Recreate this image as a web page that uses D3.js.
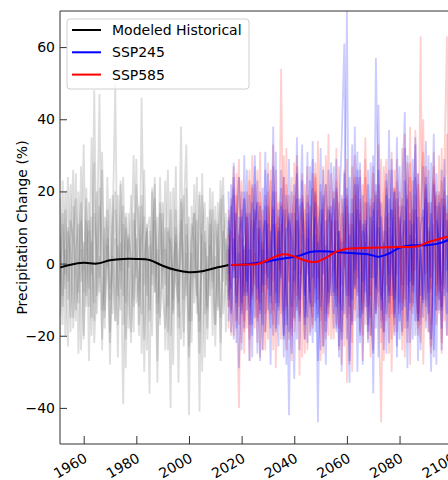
<!DOCTYPE html>
<html>
<head>
<meta charset="utf-8">
<script src="https://cdn.jsdelivr.net/npm/d3@7"></script>
<style>
  body { margin: 0; background: #fff; }
  text { font-family: "DejaVu Sans", sans-serif; }
</style>
</head>
<body>
<div id="chart"></div>
<script>
// ensemble members, one value per year (precipitation change, %)
const histStart = 1951;
const futureStart = 2015;

const histRun1 = [8,-12,15,-5,22,-18,3,11,-24,6,-9,17,-3,28,-14,2,-21,13,9,-7,19,-16,5,-2,24,-11,7,-19,12,-4,16,-25,1,10,-13,21,-8,4,-17,14,-6,26,-20,0,8,-15,18,-10,3,-23,11,6,-14,20,-3,9,-18,15,-7,2,-12,23,-5,7,-9];
const histRun2 = [-6,14,-20,9,3,-15,25,-8,12,-2,18,-27,6,-11,20,-4,31,-13,7,-19,2,15,-9,23,-17,10,-5,-22,14,4,-12,19,-30,8,13,-6,22,-14,-1,17,-24,9,5,-10,27,-18,12,-3,21,-26,6,14,-8,-16,19,3,-21,11,-5,16,-13,8,24,-19,4];
const histRun3 = [18,-9,4,-23,12,7,-16,20,-5,33,-12,9,-20,14,3,-8,26,-15,5,-28,11,20,-6,-13,16,-21,8,2,-10,29,-17,6,13,-24,9,-3,18,-11,24,-7,4,-19,15,-14,10,-33,7,19,-9,13,-16,22,-2,-25,8,17,-12,5,-20,12,3,-15,19,-6,10];
const histRun4 = [-14,23,-7,10,-19,16,-2,-11,27,-21,5,12,-15,48,-9,21,-13,-4,15,-22,9,50,-17,6,-39,13,-1,19,-12,7,-20,46,-6,11,-16,3,24,-27,14,-8,-18,10,-40,21,-5,-11,17,-23,8,-42,16,-4,12,-41,25,-14,2,-9,20,-17,11,-22,6,14,-8];
const histRun5 = [3,-17,20,-10,6,26,-13,-4,17,-20,12,-7,35,-16,4,47,-24,10,-1,18,-14,7,-26,22,-9,14,-18,5,30,-11,-4,16,-21,9,-36,20,-8,13,-15,1,23,-12,7,-28,15,-6,38,-19,11,-3,-22,14,-9,19,-30,6,-13,21,-7,-17,17,-27,9,3,-12];
const histRun6 = [-20,11,-3,24,-15,9,18,-25,4,-8,21,-12,13,-22,-5,16,7,-18,24,-10,2,-16,19,-7,11,-29,14,-3,-19,22,9,-14,26,-9,5,-20,12,-33,17,-2,10,-24,20,-13,6,-7,-21,14,33,-16,3,-11,24,-19,8,-26,13,-1,15,-23,7,18,-14,-4,13];

const ssp245Run1 = [5,-14,19,-22,8,13,-9,26,-17,3,15,-25,10,-6,31,-13,2,20,-19,9,-4,24,-28,12,7,-15,35,-10,4,-21,17,-8,29,-16,6,-24,14,22,-11,-3,27,-19,9,-30,18,2,-12,33,-7,15,-22,11,6,-17,28,-4,19,-26,13,1,-14,37,-9,20,-23,8,16,-12,30,-5,11,-20,25,4,-15,34,-8,17,-24,12,6,-13,29,-2,21,-10];
const ssp245Run2 = [-10,22,-4,14,-29,9,18,-13,4,-20,27,-7,12,-24,16,3,-11,38,-18,6,21,-26,10,-42,14,-5,25,-16,8,-9,31,-20,5,17,-44,22,-3,12,-14,9,18,-12,9,-21,4,70,-27,14,-6,26,-15,19,-8,22,-11,-25,57,13,-18,2,23,-9,15,-20,7,27,-13,-2,18,-22,10,33,-16,6,-10,24,-19,14,2,-28,20,-6,16,-14,28,9];
const ssp245Run3 = [12,-7,28,-18,3,-11,20,-5,14,-26,9,17,-14,4,-19,25,-9,11,-2,-23,16,6,-17,29,-12,2,-21,18,10,-7,-15,23,-4,13,-27,7,19,-16,26,-9,3,-18,14,33,61,-21,8,-10,22,-30,12,-5,17,-22,6,30,-14,10,-3,-19,25,-11,4,20,-26,13,-6,32,-16,8,-21,15,3,-9,27,-18,10,-4,36,-13,17,-24,8,19,-7,14];
const ssp245Run4 = [-3,16,-21,10,24,-14,5,-9,19,-17,30,-2,-13,21,-6,11,-28,15,4,-12,26,-20,8,14,-9,-32,18,2,23,-15,7,-11,34,-19,10,15,-23,5,-8,28,-14,12,-26,19,2,-9,24,-16,7,31,-20,9,-12,26,-4,15,-18,44,-10,6,-25,18,11,-14,35,-7,-19,23,1,-11,29,-16,13,-24,7,18,-5,-30,22,10,-13,26,-9,12,-17,23];
const ssp245Run5 = [20,-19,7,-4,13,-24,30,-8,2,17,-15,23,-27,8,12,-6,-18,27,-11,15,-3,-21,19,5,-25,22,-13,9,33,-17,14,-6,-22,20,3,-12,26,-19,11,16,-8,29,-23,6,-14,21,-2,-17,38,-9,24,-28,12,3,-20,17,-7,26,-13,-1,19,-22,29,-10,5,-16,21,42,-18,12,-6,24,-27,10,15,-12,30,-21,4,25,-10,18,-3,-20,33,-6];
const ssp245Run6 = [-16,10,24,-11,-1,20,-18,13,-27,22,5,-10,16,-17,26,-4,9,-20,31,-13,8,15,-7,-19,20,-2,12,-24,17,3,-22,27,-12,8,-15,32,-6,-28,15,11,-18,21,4,-13,25,-7,-33,18,-2,14,28,-14,6,-19,13,-36,22,-8,17,-24,9,-3,26,-15,18,-21,7,12,-29,20,-8,35,-16,4,-11,22,-14,28,-26,16,3,-18,24,-8,11,30];

const ssp585Run1 = [8,-13,21,-6,-40,15,-19,11,26,-8,3,-22,17,9,-14,28,-5,-17,20,-11,54,-9,-24,13,6,-16,30,-3,19,-21,10,-12,25,-7,16,-27,4,22,-15,12,-2,32,-18,7,-23,18,-9,27,-13,5,14,-20,24,-4,-26,11,20,-10,-44,16,29,-15,8,-19,23,3,-11,36,-22,14,-6,19,-14,63,-28,9,17,-8,31,-17,5,-12,26,63,-16,21];
const ssp585Run2 = [-12,18,-4,25,-17,7,-25,14,2,-10,22,-15,31,-8,12,-21,6,16,-29,10,-3,24,-12,19,-18,-6,27,-14,9,15,-24,5,21,-11,34,-16,8,-4,-20,25,13,-9,17,-28,3,29,-14,11,-7,22,-19,6,35,-12,18,-24,2,15,-9,27,-16,10,-30,21,-3,16,-20,9,28,-13,23,-5,-18,12,40,-10,17,-23,6,19,-14,32,-7,14,-21,27];
const ssp585Run3 = [15,-6,-20,12,29,-13,4,-18,23,-9,11,17,-26,6,-3,20,-14,33,-8,13,-21,9,15,-5,24,-19,12,-31,18,4,27,-9,-15,19,-4,11,-23,30,-12,7,20,-17,9,-6,26,-33,14,3,-16,24,8,-11,29,-21,16,-3,-14,22,10,-27,13,-8,31,-17,5,20,-24,16,-6,38,-12,11,25,-15,-4,21,-19,12,27,-9,16,-25,20,8,-13,24];
const ssp585Run4 = [-5,12,27,-16,8,-22,18,-3,-12,21,-18,10,4,-24,19,-7,26,-13,11,-2,17,-20,32,-10,-27,14,6,-15,25,-8,12,-19,3,28,-14,20,-25,9,16,-6,-21,23,-11,14,-1,19,-28,6,30,-15,10,22,-17,4,-9,27,-13,18,-22,9,-6,26,-14,21,-19,12,3,-26,17,28,-11,7,-20,15,31,-16,9,-7,23,-13,19,-22,11,36,-9,16];
const ssp585Run5 = [4,-20,14,-9,24,6,-16,20,-27,12,-6,26,-11,15,-19,2,23,-24,8,17,-14,30,-7,-21,11,19,-12,4,-26,22,-3,16,-17,25,9,-13,27,-21,1,14,-9,20,-24,18,8,-15,11,-30,19,-4,26,-13,7,17,-20,12,-6,33,-16,3,21,-25,15,-8,29,-11,18,-18,6,24,-14,37,-9,-22,13,-3,26,-17,11,-6,30,-12,18,-20,23,9];
const ssp585Run6 = [-18,9,-2,19,-12,23,-8,13,-21,30,5,-16,20,-11,-24,16,7,-5,26,-17,11,-13,22,1,-20,28,-9,16,-4,-25,19,8,-18,24,-10,3,15,-14,36,-21,12,-7,27,-19,5,16,-11,-22,24,-8,18,-27,11,6,-15,25,-4,-12,29,-19,9,14,-21,26,-7,-14,32,-10,19,-28,15,-2,22,-17,8,27,-12,-25,14,20,-8,23,-16,10,28,-11];

// smoothed ensemble means
const histMeanYears = [1951,1955,1960,1965,1970,1975,1980,1985,1990,1995,2000,2005,2010,2015];
const histMean      = [-1.1,-0.3,0.2,0.0,0.9,1.3,1.3,1.0,-0.6,-1.8,-2.4,-2.1,-1.2,-0.4];
const ssp245MeanYears = [2016,2020,2026,2030,2034,2038,2042,2046,2050,2054,2058,2064,2068,2072,2076,2080,2084,2090,2095,2100];
const ssp245Mean      = [-0.4,-0.3,0.2,0.6,1.2,1.6,2.2,3.2,3.4,3.3,3.1,2.8,2.6,1.9,2.8,4.4,5.0,5.1,5.6,7.0];
const ssp585MeanYears = [2016,2020,2026,2030,2033,2036,2039,2042,2046,2049,2052,2056,2060,2065,2070,2075,2080,2087,2091,2096,2100];
const ssp585Mean      = [-0.4,-0.3,-0.1,1.0,2.0,2.6,2.2,1.4,0.5,0.6,1.6,3.3,4.1,4.3,4.4,4.5,4.6,4.8,6.0,7.0,7.8];

const yTicks = [-40, -20, 0, 20, 40, 60];
const xTicks = [1960, 1980, 2000, 2020, 2040, 2060, 2080, 2100];
const legendLabels = ["Modeled Historical", "SSP245", "SSP585"];
const legendColors = ["black", "blue", "red"];

const width = 448, height = 480;
const plot = { left: 60, top: 11, right: 468, bottom: 444 };

const svg = d3.select("#chart").append("svg")
    .attr("width", width)
    .attr("height", height);

const x = d3.scaleLinear().domain([1951, 2106]).range([plot.left, plot.right]);
const y = d3.scaleLinear().domain([-50, 70]).range([plot.bottom, plot.top]);

svg.append("clipPath").attr("id", "clip")
  .append("rect")
    .attr("x", plot.left).attr("y", plot.top)
    .attr("width", plot.right - plot.left)
    .attr("height", plot.bottom - plot.top);

const g = svg.append("g").attr("clip-path", "url(#clip)");

function runLine(start) {
    return d3.line()
        .x((d, i) => x(start + i))
        .y(d => y(d));
}

function drawRuns(runs, start, color, opacity) {
    runs.forEach(run => {
        g.append("path")
            .datum(run)
            .attr("d", runLine(start))
            .attr("fill", "none")
            .attr("stroke", color)
            .attr("stroke-width", 1.8)
            .attr("stroke-linejoin", "bevel")
            .attr("stroke-opacity", opacity);
    });
}

drawRuns([histRun1, histRun2, histRun3, histRun4, histRun5, histRun6], histStart, "#808080", 0.27);
drawRuns([ssp585Run1, ssp585Run2, ssp585Run3, ssp585Run4, ssp585Run5, ssp585Run6], futureStart, "red", 0.19);
drawRuns([ssp245Run1, ssp245Run2, ssp245Run3, ssp245Run4, ssp245Run5, ssp245Run6], futureStart, "blue", 0.2);

// mean lines
const meanLine = d3.line()
    .x(d => x(d[0]))
    .y(d => y(d[1]))
    .curve(d3.curveCatmullRom);

[[histMeanYears, histMean, "black"],
 [ssp245MeanYears, ssp245Mean, "blue"],
 [ssp585MeanYears, ssp585Mean, "red"]].forEach(([yrs, vals, col]) => {
    g.append("path")
        .datum(d3.zip(yrs, vals))
        .attr("d", meanLine)
        .attr("fill", "none")
        .attr("stroke", col)
        .attr("stroke-width", 2);
});

// axes (ticks pointing inward)
const yAxis = d3.axisLeft(y).tickValues(yTicks).tickSizeInner(-7).tickSizeOuter(0).tickPadding(5);
svg.append("g")
    .attr("transform", "translate(" + plot.left + ",0)")
    .call(yAxis)
    .call(a => a.select(".domain").remove())
    .call(a => a.selectAll("line").attr("stroke", "#333"))
    .call(a => a.selectAll("text").attr("font-size", 14).attr("fill", "black")
        .attr("font-family", "DejaVu Sans, sans-serif"));

const xAxis = d3.axisBottom(x).tickValues(xTicks).tickFormat(d3.format("d"))
    .tickSizeInner(-8).tickSizeOuter(0);
svg.append("g")
    .attr("transform", "translate(0," + plot.bottom + ")")
    .call(xAxis)
    .call(a => a.select(".domain").remove())
    .call(a => a.selectAll("line").attr("stroke", "#333"))
    .call(a => a.selectAll("text")
        .attr("font-size", 14).attr("fill", "black")
        .attr("font-family", "DejaVu Sans, sans-serif")
        .attr("text-anchor", "end")
        .attr("x", 0).attr("y", 0).attr("dy", 0)
        .attr("transform", "translate(4,17) rotate(-30)"));

// spines
svg.append("path")
    .attr("d", "M" + plot.left + "," + plot.top + "V" + plot.bottom + "H" + width)
    .attr("fill", "none").attr("stroke", "#333").attr("stroke-width", 1);
svg.append("line")
    .attr("x1", plot.left).attr("x2", width)
    .attr("y1", plot.top).attr("y2", plot.top)
    .attr("stroke", "#333").attr("stroke-width", 1);

// y label
svg.append("text")
    .attr("transform", "translate(22," + ((plot.top + plot.bottom) / 2) + ") rotate(-90)")
    .attr("text-anchor", "middle")
    .attr("dy", "0.35em")
    .attr("font-size", 14)
    .text("Precipitation Change (%)");

// legend
const legend = svg.append("g");
legend.append("rect")
    .attr("x", 67).attr("y", 19)
    .attr("width", 182).attr("height", 70)
    .attr("rx", 3)
    .attr("fill", "white").attr("fill-opacity", 0.8)
    .attr("stroke", "#d0d0d0");
legendLabels.forEach((lab, i) => {
    const ly = 30 + i * 22.3;
    legend.append("line")
        .attr("x1", 72).attr("x2", 101)
        .attr("y1", ly).attr("y2", ly)
        .attr("stroke", legendColors[i]).attr("stroke-width", 2);
    legend.append("text")
        .attr("x", 112).attr("y", ly)
        .attr("dy", "0.35em")
        .attr("font-size", 14)
        .text(lab);
});
</script>
</body>
</html>
